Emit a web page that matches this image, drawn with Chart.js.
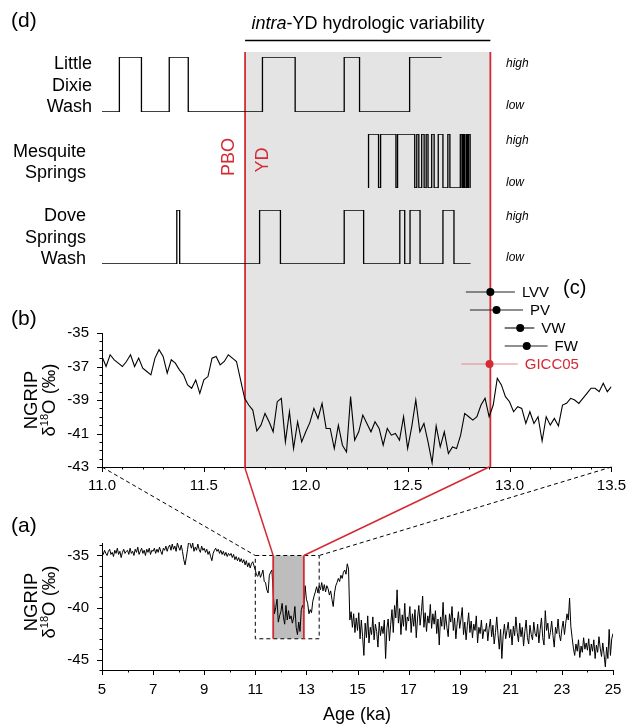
<!DOCTYPE html>
<html>
<head>
<meta charset="utf-8">
<title>NGRIP d18O and intra-YD hydrologic variability</title>
<script src="https://cdn.jsdelivr.net/npm/chart.js@4.4.1/dist/chart.umd.min.js"></script>
<style>
  html, body { margin: 0; background: #fff; }
  #fig { position: relative; width: 632px; height: 725px; overflow: hidden;
         font-family: 'Liberation Sans', Arial, sans-serif; color: #000; }
  #fig canvas { position: absolute; left: 0; }
  .lbl { position: absolute; white-space: nowrap; line-height: 1; }
  .panel { font-size: 21px; }
  .site { font-size: 18px; line-height: 21.5px; text-align: right; }
  .lvl { font-size: 12px; font-style: italic; line-height: 12px; left: 506px; }
  .red { color: #d42a33; }
  .rot { transform: translate(-50%, -50%) rotate(-90deg); text-align: center; }
  .ytitle { font-size: 18.5px; line-height: 18px; }
  .ytitle sup { font-size: 11px; line-height: 0; vertical-align: 7px; }
</style>
</head>
<body>
<div id="fig">
  <canvas id="bg" width="632" height="480" style="top:0"></canvas>
  <canvas id="ldw" width="632" height="59" style="top:55px"></canvas>
  <canvas id="msp" width="632" height="58" style="top:132px"></canvas>
  <canvas id="dsw" width="632" height="58" style="top:208px"></canvas>
  <canvas id="onset" width="632" height="98" style="top:279px"></canvas>
  <canvas id="chartB" width="632" height="200" style="top:300px"></canvas>
  <canvas id="chartA" width="632" height="180" style="top:520px"></canvas>
  <canvas id="links" width="632" height="725" style="top:0"></canvas>

  <div class="lbl panel" style="left:11px; top:9px">(d)</div>
  <div class="lbl" style="left:368px; top:14px; font-size:18px; transform:translateX(-50%)"><i>intra</i>-YD hydrologic variability</div>
  <div class="lbl site" style="right:540px; top:53px">Little<br>Dixie<br>Wash</div>
  <div class="lbl site" style="right:546px; top:141px; line-height:20.5px">Mesquite<br>Springs</div>
  <div class="lbl site" style="right:546px; top:205px">Dove<br>Springs<br>Wash</div>
  <div class="lbl lvl" style="top:57px">high</div>
  <div class="lbl lvl" style="top:99px">low</div>
  <div class="lbl lvl" style="top:134px">high</div>
  <div class="lbl lvl" style="top:176px">low</div>
  <div class="lbl lvl" style="top:210px">high</div>
  <div class="lbl lvl" style="top:251px">low</div>
  <div class="lbl red rot" style="left:228px; top:157px; font-size:18px">PBO</div>
  <div class="lbl red rot" style="left:262px; top:160px; font-size:18px">YD</div>

  <div class="lbl" style="left:563px; top:277px; font-size:20px">(c)</div>
  <div class="lbl panel" style="left:11px; top:307px">(b)</div>
  <div class="lbl ytitle rot" style="left:40px; top:400px">NGRIP<br>&delta;<sup>18</sup>O (&permil;)</div>

  <div class="lbl panel" style="left:11px; top:514px">(a)</div>
  <div class="lbl ytitle rot" style="left:40px; top:602px">NGRIP<br>&delta;<sup>18</sup>O (&permil;)</div>
  <div class="lbl" style="left:357px; top:705px; font-size:18px; transform:translateX(-50%)">Age (ka)</div>
</div>

<script>
'use strict'

// ---- data ------------------------------------------------------------

// Younger Dryas boundaries (ka)
const ydAge = [11.7, 12.9]
// window of panel (b) shown as the dashed box in panel (a)
const zoomAge = [11.0, 13.5]
const zoomD18O = [-43, -35]

// (d) hydrologic state, age at which each state starts; 1 = high, 0 = low
const ldwAge = [11.0, 11.085, 11.193, 11.329, 11.422, 11.785, 11.945, 12.185, 12.26, 12.505, 12.662]
const ldwLevel = [0, 1, 0, 1, 0, 1, 0, 1, 0, 1, 1]

const mspAge = [12.304, 12.304, 12.353, 12.363, 12.438, 12.446, 12.53, 12.54, 12.55, 12.564,
  12.576, 12.586, 12.595, 12.613, 12.625, 12.645, 12.668, 12.692, 12.702, 12.753,
  12.761, 12.767, 12.773, 12.781, 12.787, 12.793, 12.801]
const mspLevel = [0, 1, 0, 1, 0, 1, 0, 1, 0, 1, 0, 1, 0, 1, 0, 1, 0, 1, 0, 1, 0, 1, 0, 1, 0, 1, 0]

const dswAge = [11.0, 11.366, 11.38, 11.771, 11.873, 12.185, 12.28, 12.457, 12.481, 12.507,
  12.556, 12.668, 12.722, 12.803]
const dswLevel = [0, 1, 0, 1, 0, 1, 0, 1, 0, 1, 0, 1, 0, 0]

// (c) YD onset ages (ka) with their ranges
const cSites = ['LVV', 'PV', 'VW', 'FW', 'GICC05']
const cAge = [12.9, 12.93, 13.046, 13.078, 12.896]
const cAgeLo = [12.78, 12.8, 12.97, 12.97, 12.758]
const cAgeHi = [13.02, 13.06, 13.115, 13.18, 13.034]

// (b) NGRIP d18O (permil), 20-yr samples starting at 11.0 ka
const bStartAge = 11.0
const bStepAge = 0.02
const bD18O = [
  -36.4, -37.0, -36.3, -36.6, -36.8, -37.0, -36.7, -36.3, -37.0, -36.5,
  -37.1, -37.3, -37.5, -36.5, -36.0, -36.4, -37.4, -36.6, -36.8, -37.2,
  -37.5, -38.1, -38.3, -37.8, -38.6, -37.8, -37.6, -36.5, -36.4, -36.9,
  -36.7, -36.3, -36.5, -36.7, -37.8, -38.9, -39.3, -39.6, -40.85, -40.5,
  -39.8, -40.3, -40.9, -39.1, -38.9, -41.5, -39.7, -41.9, -40.3, -41.5,
  -40.9, -40.35, -39.5, -40.1, -39.2, -40.7, -40.7, -41.9, -40.5, -41.7,
  -42.1, -38.8, -41.4, -40.9, -39.9, -40.4, -40.9, -40.3, -40.7, -41.7,
  -40.7, -41.1, -41.0, -41.4, -40.0, -41.9, -40.6, -39.0, -40.9, -40.4,
  -41.5, -42.75, -40.55, -41.8, -40.9, -42.2, -41.8, -41.9, -41.1, -39.8,
  -40.0, -40.2, -40.0, -39.3, -38.9, -40.0, -39.3, -37.7, -38.1, -38.8,
  -39.1, -39.7, -39.4, -39.5, -40.4, -39.7, -40.4, -40.0, -41.45, -40.0,
  -40.5, -40.1, -40.55, -39.3, -39.2, -38.9, -39.0, -39.2, -38.9, -38.6,
  -38.3, -38.3, -38.5, -38.0, -38.5, -38.2
]

// (a) NGRIP d18O (permil), 50-yr samples starting at 5 ka
const aStartAge = 5
const aStepAge = 0.05
const aD18O = [
  -34.6, -34.9, -34.5, -34.8, -35.0, -34.6, -34.4, -34.9, -34.7, -35.1, -34.5, -34.8, -34.3, -34.9, -34.6, -35.2, -34.7, -34.4, -34.8, -34.6,
  -34.5, -34.9, -34.3, -34.8, -34.6, -35.0, -34.4, -34.7, -34.2, -34.9, -34.6, -34.3, -34.8, -34.5, -35.0, -34.4, -34.7, -34.3, -34.9, -34.5,
  -34.6, -34.3, -34.8, -34.4, -34.7, -34.2, -34.6, -34.9, -34.3, -34.5, -34.1, -34.6, -34.2, -34.0, -34.5, -33.9, -34.4, -34.1, -34.6, -33.8,
  -34.2, -34.5, -34.0, -34.6, -35.4, -35.9, -35.2, -34.4, -33.5, -33.9, -34.3, -33.8, -34.6, -34.2, -34.5, -33.9, -34.4, -34.7, -34.1, -34.5,
  -34.3, -34.7, -34.4, -34.9, -34.6, -35.1, -35.5, -34.8, -34.5, -34.3, -34.6, -34.4, -34.8, -34.5, -34.9, -34.6, -35.0, -34.7, -35.1, -34.8,
  -35.0, -34.8, -35.2, -34.9, -35.4, -35.1, -35.5, -35.2, -35.6, -35.3, -35.7, -35.4, -35.9, -35.5, -36.1, -35.7, -36.2, -35.8, -35.6, -36.0,
  -36.4, -36.9, -37.0, -36.5, -37.1, -36.8, -36.4, -37.5, -37.6, -38.3, -38.6, -36.9, -36.6, -36.4, -38.5, -40.6, -40.0, -39.2, -41.4, -40.8,
  -40.4, -39.6, -40.9, -41.6, -39.8, -41.2, -40.3, -41.1, -40.8, -41.5, -41.0, -39.9, -41.9, -42.6, -41.4, -42.3, -40.2, -39.8, -40.1, -37.9,
  -39.2, -39.6, -40.6, -40.2, -40.5, -39.4, -38.9, -38.5, -38.0, -38.6, -37.9, -38.3, -37.6, -38.4, -37.8, -38.5, -37.9, -38.2, -38.8, -38.4,
  -39.2, -39.9, -38.6, -37.9, -37.6, -37.2, -37.5, -36.9, -37.2, -36.6, -36.4, -36.8, -35.8, -36.3, -41.2, -40.4, -41.9, -40.6, -42.4, -41.0,
  -42.2, -40.5, -43.0, -41.2, -42.8, -44.6, -41.5, -42.9, -40.8, -43.4, -41.9, -42.6, -40.9, -43.1, -41.6, -42.3, -43.8, -41.4, -42.7, -41.8,
  -42.5, -41.2, -44.9, -42.0, -41.1, -43.2, -41.6, -40.2, -42.4, -39.8, -41.0, -38.3, -41.5, -40.1, -42.6, -40.7, -41.8, -39.6, -42.2, -40.9,
  -41.3, -39.9, -42.4, -40.6, -41.8, -40.2, -42.9, -41.0, -39.8, -41.7, -40.4, -38.9, -41.9, -40.5, -42.3, -40.8, -41.5, -39.7, -42.0, -40.6,
  -41.6, -40.3, -42.5, -41.1, -43.6, -40.9, -41.8, -39.5, -42.1, -40.7, -41.9, -42.8, -40.6, -41.4, -39.9, -42.2, -41.0, -43.0, -41.5, -40.4,
  -42.0, -41.1, -40.0, -42.6, -41.4, -43.1, -41.7, -40.5, -42.4, -41.3, -42.9, -41.6, -42.2, -40.8, -43.4, -41.9, -42.5, -41.2, -43.0, -42.1,
  -42.3, -41.5, -43.2, -42.0, -41.1, -42.8, -41.7, -43.5, -42.4, -40.9, -42.6, -44.0, -42.1, -44.9, -42.7, -41.6, -43.0, -42.2, -41.4, -42.9,
  -42.1, -43.6, -41.8, -42.7, -40.9, -42.4, -43.3, -41.5, -42.8, -41.9, -43.7, -42.3, -41.2, -42.9, -43.5, -41.7, -42.6, -43.1, -41.4, -42.5,
  -42.8, -41.6, -43.4, -42.1, -41.0, -42.9, -43.6, -40.3, -42.2, -41.5, -43.0, -42.4, -41.3, -42.7, -43.8, -41.9, -42.5, -41.1, -42.6, -43.2,
  -42.0, -41.3, -42.6, -41.5, -40.6, -41.2, -39.1, -41.8, -42.9, -43.9, -44.6, -43.5, -44.2, -43.1, -44.8, -43.7, -44.3, -42.9, -44.0, -43.4,
  -44.1, -43.0, -44.6, -43.5, -44.2, -43.1, -44.9, -43.6, -44.3, -42.8, -43.9, -44.7, -43.4, -44.5, -45.7, -43.8, -44.9, -42.1, -44.6, -43.0,
  -42.5
]

// labelled ticks
const bAgeMajor = [11.0, 11.5, 12.0, 12.5, 13.0, 13.5]
const bD18OMajor = [-43, -41, -39, -37, -35]
const aAgeMajor = [5, 7, 9, 11, 13, 15, 17, 19, 21, 23, 25]
const aD18OMajor = [-45, -40, -35]
const aD18ORange = [-46, -33.8]

// ---- styling -----------------------------------------------------------

const FONT = "'Liberation Sans', Arial, sans-serif"
const INK = '#000'
const RED = '#d42a33'
const RED_LIGHT = '#e8868c'
const BAND_GREY = '#e4e4e4'
const WINDOW_GREY = '#bdbdbd'
const PLOT_LEFT = 102
const PLOT_RIGHT = 19

Chart.defaults.font.family = FONT
Chart.defaults.font.size = 15
Chart.defaults.color = INK
Chart.defaults.animation = false
Chart.defaults.responsive = false
Chart.defaults.maintainAspectRatio = false
Chart.defaults.events = []
Chart.defaults.plugins.legend.display = false
Chart.defaults.plugins.tooltip.enabled = false
Chart.defaults.plugins.colors = { enabled: false }
Chart.defaults.elements.point.radius = 0
Chart.defaults.elements.line.borderWidth = 1
Chart.defaults.elements.line.borderColor = INK

const pts = (xs, ys) => xs.map((x, i) => ({ x, y: ys[i] }))
const series = (start, step, ys) => ys.map((y, i) => ({ x: start + i * step, y }))
const near = (v, list) => list.some((m) => Math.abs(v - m) < 1e-6)
const onStep = (v, step) => Math.abs(v / step - Math.round(v / step)) < 1e-6

function hidden(min, max, extra) {
  return Object.assign({ type: 'linear', min, max, display: false }, extra)
}

function tickAxis(min, max, step, majors, digits, pad, fit) {
  return {
    type: 'linear',
    min,
    max,
    border: { color: INK, width: 1 },
    grid: { drawOnChartArea: false, tickLength: 4, tickColor: 'rgba(0,0,0,0)' },
    ticks: {
      stepSize: step,
      includeBounds: false,
      autoSkip: false,
      maxRotation: 0,
      padding: pad,
      callback: (v) => (near(v, majors) ? v.toFixed(digits) : ''),
    },
    afterFit: fit,
  }
}

// outward tick marks, longer at labelled values
function tickMarks(spec) {
  return {
    id: 'tickMarks',
    afterDraw(chart) {
      const ctx = chart.ctx
      ctx.save()
      ctx.strokeStyle = INK
      ctx.lineWidth = 1
      Object.keys(spec).forEach((id) => {
        const s = chart.scales[id]
        const { step, majors } = spec[id]
        s.ticks.forEach(({ value }) => {
          if (!onStep(value, step)) return
          const len = near(value, majors) ? 5 : 2.5
          const p = Math.round(s.getPixelForValue(value)) + 0.5
          ctx.beginPath()
          if (s.isHorizontal()) {
            ctx.moveTo(p, s.top)
            ctx.lineTo(p, s.top + len)
          } else {
            ctx.moveTo(s.right, p)
            ctx.lineTo(s.right - len, p)
          }
          ctx.stroke()
        })
      })
      ctx.restore()
    },
  }
}

// ---- (d) background: YD band, guide lines, bracket --------------------

new Chart(document.getElementById('bg'), {
  type: 'line',
  data: {
    datasets: [
      { data: pts(ydAge, [1, 1]), fill: 'origin', backgroundColor: BAND_GREY,
        borderColor: 'rgba(0,0,0,0)', borderWidth: 0, order: 2 },
      { data: pts([ydAge[0], ydAge[0]], [0, 1]), borderColor: RED, borderWidth: 1.8, order: 1 },
      { data: pts([ydAge[1], ydAge[1]], [0, 1]), borderColor: RED, borderWidth: 1.8, order: 1 },
    ],
  },
  options: {
    layout: { padding: { left: PLOT_LEFT, right: PLOT_RIGHT, top: 52, bottom: 13 } },
    scales: { x: hidden(zoomAge[0], zoomAge[1]), y: hidden(0, 1) },
  },
  plugins: [{
    id: 'ydBracket',
    afterDraw(chart) {
      const { ctx, chartArea, scales: { x } } = chart
      const y = chartArea.top - 11.5
      ctx.save()
      ctx.strokeStyle = INK
      ctx.lineWidth = 1.5
      ctx.beginPath()
      ctx.moveTo(x.getPixelForValue(ydAge[0]), y)
      ctx.lineTo(x.getPixelForValue(ydAge[1]), y)
      ctx.stroke()
      ctx.restore()
    },
  }],
})

// ---- (d) state records -----------------------------------------------

function laneChart(id, ages, levels) {
  return new Chart(document.getElementById(id), {
    type: 'line',
    data: { datasets: [{ data: pts(ages, levels), stepped: true, borderColor: INK, borderWidth: 1.3 }] },
    options: {
      layout: { padding: { left: PLOT_LEFT, right: PLOT_RIGHT, top: 2, bottom: 2 } },
      scales: { x: hidden(zoomAge[0], zoomAge[1]), y: hidden(0, 1) },
    },
  })
}

laneChart('ldw', ldwAge, ldwLevel)
laneChart('msp', mspAge, mspLevel)
laneChart('dsw', dswAge, dswLevel)

// ---- (c) onset ages --------------------------------------------------

const onsetSets = []
cSites.forEach((name, i) => {
  const ref = name === 'GICC05'
  onsetSets.push({ data: pts([cAgeLo[i], cAgeHi[i]], [i, i]),
    borderColor: ref ? RED_LIGHT : '#222', borderWidth: 1.2, order: 1 })
  onsetSets.push({ data: [{ x: cAge[i], y: i }], showLine: false, order: 0,
    pointRadius: 4, pointBorderWidth: 0,
    pointBackgroundColor: ref ? RED : INK, pointBorderColor: ref ? RED : INK })
})

new Chart(document.getElementById('onset'), {
  type: 'line',
  data: { datasets: onsetSets },
  options: {
    layout: { padding: { left: PLOT_LEFT, right: PLOT_RIGHT, top: 0, bottom: 0 } },
    scales: {
      x: hidden(zoomAge[0], zoomAge[1]),
      y: hidden(-0.5, cSites.length - 0.5, { reverse: true }),
    },
  },
  plugins: [{
    id: 'siteNames',
    afterDatasetsDraw(chart) {
      const { ctx, scales: { x, y } } = chart
      ctx.save()
      ctx.font = '15px ' + FONT
      ctx.textBaseline = 'middle'
      cSites.forEach((name, i) => {
        ctx.fillStyle = name === 'GICC05' ? RED : INK
        ctx.fillText(name, x.getPixelForValue(cAgeHi[i]) + 7, y.getPixelForValue(i) + 1)
      })
      ctx.restore()
    },
  }],
})

// ---- (b) NGRIP, YD window -------------------------------------------

const bChart = new Chart(document.getElementById('chartB'), {
  type: 'line',
  data: { datasets: [{ data: series(bStartAge, bStepAge, bD18O), borderColor: INK, borderWidth: 1.1 }] },
  options: {
    layout: { padding: { top: 33, right: PLOT_RIGHT, left: 0, bottom: 0 } },
    scales: {
      x: tickAxis(zoomAge[0], zoomAge[1], 0.1, bAgeMajor, 1, 6, (s) => { s.height = 33 }),
      y: tickAxis(zoomD18O[0], zoomD18O[1], 0.5, bD18OMajor, 0, 9, (s) => { s.width = PLOT_LEFT }),
    },
  },
  plugins: [tickMarks({ x: { step: 0.1, majors: bAgeMajor }, y: { step: 0.5, majors: bD18OMajor } })],
})

// ---- (a) NGRIP, 5-25 ka ----------------------------------------------

const aChart = new Chart(document.getElementById('chartA'), {
  type: 'line',
  data: {
    datasets: [
      { data: pts(ydAge, [zoomD18O[1], zoomD18O[1]]), fill: { value: zoomD18O[0] },
        backgroundColor: WINDOW_GREY, borderColor: 'rgba(0,0,0,0)', borderWidth: 0, order: 3 },
      { data: series(aStartAge, aStepAge, aD18O), borderColor: INK, borderWidth: 1, order: 2 },
      { data: pts([zoomAge[0], zoomAge[1], zoomAge[1], zoomAge[0], zoomAge[0]],
          [zoomD18O[1], zoomD18O[1], zoomD18O[0], zoomD18O[0], zoomD18O[1]]),
        borderColor: INK, borderDash: [4, 3], borderWidth: 1, order: 1 },
      { data: pts([ydAge[0], ydAge[0]], zoomD18O), borderColor: RED, borderWidth: 1.8, order: 0 },
      { data: pts([ydAge[1], ydAge[1]], zoomD18O), borderColor: RED, borderWidth: 1.8, order: 0 },
    ],
  },
  options: {
    layout: { padding: { top: 23, right: PLOT_RIGHT, left: 0, bottom: 0 } },
    scales: {
      x: tickAxis(aStartAge, 25, 1, aAgeMajor, 0, 7, (s) => { s.height = 30 }),
      y: tickAxis(aD18ORange[0], aD18ORange[1], 1, aD18OMajor, 0, 9, (s) => { s.width = PLOT_LEFT }),
    },
  },
  plugins: [tickMarks({ x: { step: 1, majors: aAgeMajor }, y: { step: 1, majors: aD18OMajor } })],
})

// ---- connectors between (b) and the window in (a) ---------------------

function drawLinks() {
  const ctx = document.getElementById('links').getContext('2d')
  const bTop = bChart.canvas.offsetTop
  const aTop = aChart.canvas.offsetTop
  const link = (v, color, dash, width) => {
    ctx.save()
    ctx.strokeStyle = color
    ctx.lineWidth = width
    ctx.setLineDash(dash)
    ctx.beginPath()
    ctx.moveTo(bChart.scales.x.getPixelForValue(v), bTop + bChart.chartArea.bottom)
    ctx.lineTo(aChart.scales.x.getPixelForValue(v), aTop + aChart.scales.y.getPixelForValue(zoomD18O[1]))
    ctx.stroke()
    ctx.restore()
  }
  zoomAge.forEach((v) => link(v, INK, [4, 3], 1))
  ydAge.forEach((v) => link(v, RED, [], 1.5))
}

drawLinks()
</script>
</body>
</html>
